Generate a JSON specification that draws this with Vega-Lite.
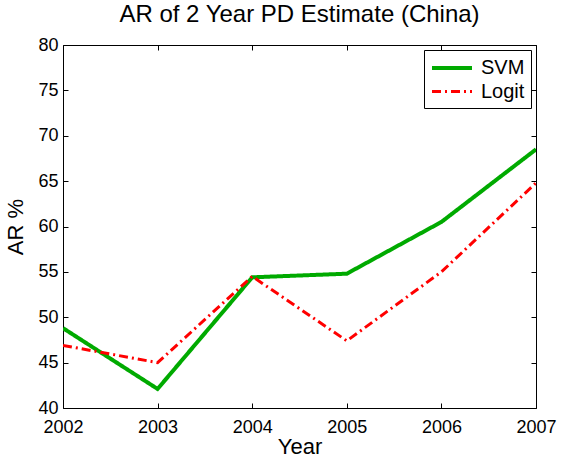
{
  "$schema": "https://vega.github.io/schema/vega-lite/v6.json",
  "width": 473,
  "height": 363,
  "autosize": {"type": "none"},
  "padding": {"left": 63, "top": 45, "right": 25, "bottom": 51},
  "background": "white",
  "title": {"text": "AR of 2 Year PD Estimate (China)", "font": "Liberation Sans", "fontSize": 24, "fontWeight": "normal", "color": "black", "offset": 9},
  "config": {
    "view": {"stroke": "black", "strokeWidth": 1},
    "axis": {"labelFont": "Liberation Sans", "titleFont": "Liberation Sans", "labelFontSize": 18, "titleFontSize": 22, "titleFontWeight": "normal", "labelColor": "black", "titleColor": "black", "domainColor": "black", "tickColor": "black", "grid": false, "labelFlush": false}
  },
  "data": {"values": [
    {"year": 2002, "ar": 48.8, "model": "SVM"},
    {"year": 2003, "ar": 42.1, "model": "SVM"},
    {"year": 2004, "ar": 54.4, "model": "SVM"},
    {"year": 2005, "ar": 54.8, "model": "SVM"},
    {"year": 2006, "ar": 60.5, "model": "SVM"},
    {"year": 2007, "ar": 68.5, "model": "SVM"},
    {"year": 2002, "ar": 46.9, "model": "Logit"},
    {"year": 2003, "ar": 45.0, "model": "Logit"},
    {"year": 2004, "ar": 54.5, "model": "Logit"},
    {"year": 2005, "ar": 47.4, "model": "Logit"},
    {"year": 2006, "ar": 55.0, "model": "Logit"},
    {"year": 2007, "ar": 64.8, "model": "Logit"}
  ]},
  "resolve": {"axis": {"x": "independent", "y": "independent"}},
  "layer": [
    {
      "mark": {"type": "point", "opacity": 0},
      "encoding": {
        "x": {"field": "year", "type": "quantitative", "scale": {"domain": [2002, 2007], "nice": false, "zero": false},
          "axis": {"orient": "top", "offset": -5, "title": null, "labels": false, "domain": false, "tickSize": 5, "values": [2002, 2003, 2004, 2005, 2006, 2007]}},
        "y": {"field": "ar", "type": "quantitative", "scale": {"domain": [40, 80], "nice": false, "zero": false},
          "axis": {"orient": "right", "offset": -5, "title": null, "labels": false, "domain": false, "tickSize": 5, "values": [40, 45, 50, 55, 60, 65, 70, 75, 80]}}
      }
    },
    {
      "mark": {"type": "point", "opacity": 0},
      "encoding": {
        "x": {"field": "year", "type": "quantitative", "scale": {"domain": [2002, 2007], "nice": false, "zero": false},
          "axis": {"orient": "bottom", "offset": -5, "title": null, "labels": false, "domain": false, "tickSize": 5, "values": [2002, 2003, 2004, 2005, 2006, 2007]}},
        "y": {"field": "ar", "type": "quantitative", "scale": {"domain": [40, 80], "nice": false, "zero": false},
          "axis": {"orient": "left", "offset": -5, "title": null, "labels": false, "domain": false, "tickSize": 5, "values": [40, 45, 50, 55, 60, 65, 70, 75, 80]}}
      }
    },
    {
      "mark": {"type": "line", "clip": true},
      "encoding": {
        "x": {"field": "year", "type": "quantitative", "scale": {"domain": [2002, 2007], "nice": false, "zero": false},
          "axis": {"orient": "bottom", "title": "Year", "values": [2002, 2003, 2004, 2005, 2006, 2007], "format": "d", "tickSize": 0, "domain": false, "labelPadding": 10, "titlePadding": 0}},
        "y": {"field": "ar", "type": "quantitative", "scale": {"domain": [40, 80], "nice": false, "zero": false},
          "axis": {"orient": "left", "title": "AR %", "values": [40, 45, 50, 55, 60, 65, 70, 75, 80], "tickSize": 0, "domain": false, "labelPadding": 5, "titlePadding": 10}},
        "color": {"field": "model", "type": "nominal", "scale": {"domain": ["SVM", "Logit"], "range": ["#00aa00", "#ff0000"]},
          "legend": {"title": null, "orient": "top-right", "offset": 5, "symbolType": "M-1,0H3", "symbolSize": 400, "symbolStrokeWidth": 3.5, "labelFont": "Liberation Sans", "labelFontSize": 20, "labelColor": "black", "strokeColor": "black", "fillColor": "white", "padding": 6, "rowPadding": 2, "labelOffset": 27}},
        "strokeDash": {"field": "model", "type": "nominal", "scale": {"domain": ["SVM", "Logit"], "range": [[1, 0], [9, 4, 2, 4]]}, "legend": null},
        "strokeWidth": {"field": "model", "type": "nominal", "scale": {"domain": ["SVM", "Logit"], "range": [4, 3]}, "legend": null}
      }
    }
  ]
}
